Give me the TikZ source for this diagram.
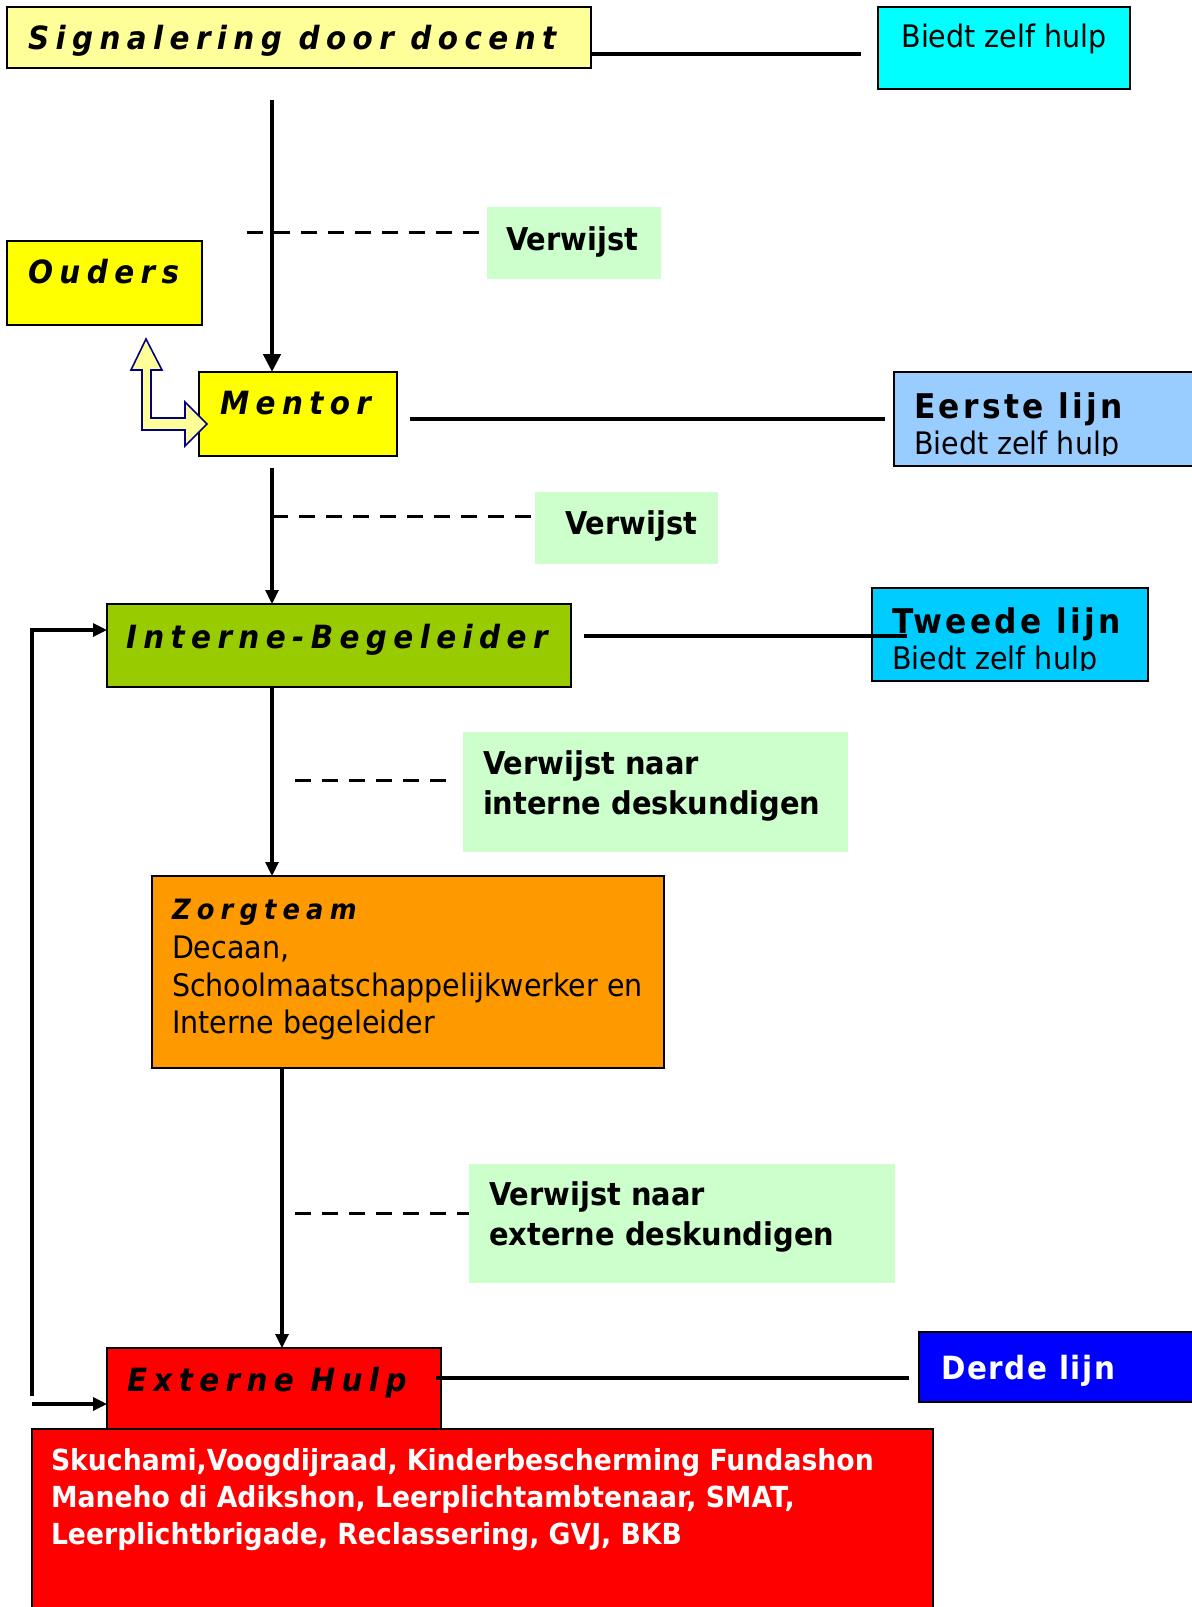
\documentclass[tikz,border=0pt]{standalone}
\usepackage{fontspec}
\setmainfont{DejaVu Sans}[FakeStretch=0.92]
\usetikzlibrary{arrows.meta}
\definecolor{lightyel}{HTML}{FFFF99}
\definecolor{yel}{HTML}{FFFF00}
\definecolor{cyanbox}{HTML}{00FFFF}
\definecolor{greenbox}{HTML}{CCFFCC}
\definecolor{bluelt}{HTML}{99CCFF}
\definecolor{ibgreen}{HTML}{99CC00}
\definecolor{skyb}{HTML}{00CCFF}
\definecolor{orangebox}{HTML}{FF9900}
\definecolor{redbox}{HTML}{FF0000}
\definecolor{bluebox}{HTML}{0000FF}
\definecolor{navyline}{HTML}{000080}
\newcommand\ttlfont{\fontsize{16}{19}\selectfont\bfseries\itshape\addfontfeatures{LetterSpace=20}}
\newcommand\zorgfont{\fontsize{14}{17}\selectfont\bfseries\itshape\addfontfeatures{LetterSpace=22}}
\newcommand\lijnfont{\fontsize{17}{20}\selectfont\bfseries\addfontfeatures{LetterSpace=10}}
\newcommand\derdefont{\fontsize{16}{19}\selectfont\bfseries\addfontfeatures{LetterSpace=5}}
\newcommand\bodyfont{\fontsize{15.5}{18}\selectfont}
\newcommand\boldbody{\fontsize{15.7}{18}\selectfont\bfseries}
\newcommand\listfont{\fontsize{14.5}{17}\selectfont\bfseries}
\tikzset{
  boxst/.style={draw=black, line width=0.9pt, inner sep=0pt, outer sep=0pt, anchor=north west},
  gbox/.style={fill=greenbox, inner sep=0pt, outer sep=0pt, anchor=north west},
  txt/.style={anchor=base west, inner sep=0pt, outer sep=0pt},
  conn/.style={line width=1.6pt},
  arr/.style={line width=1.6pt, -{Triangle[length=7pt,width=6.5pt]}},
  arrbig/.style={line width=2.4pt, -{Triangle[length=9pt,width=8.5pt]}},
  dashline/.style={line width=1.5pt, dash pattern=on 8pt off 5.5pt},
}
\begin{document}
\begin{tikzpicture}[x=0.5pt,y=-0.5pt]
\fill[white] (0,0) rectangle (1192,1607);
\useasboundingbox (0,0) rectangle (1192,1607);

% boxes
\node[boxst, fill=lightyel, minimum width=292pt, minimum height=30.5pt] (sig) at (7,7) {};
\node[boxst, fill=cyanbox, minimum width=126pt, minimum height=41pt] (zelf) at (878,7) {};
\node[gbox, minimum width=87pt, minimum height=36pt] (v1) at (487,207) {};
\node[boxst, fill=yel, minimum width=97.5pt, minimum height=42pt] (ouders) at (7,241) {};
\node[boxst, fill=yel, minimum width=99pt, minimum height=42pt] (mentor) at (199,372) {};
\node[boxst, fill=bluelt, minimum width=160pt, minimum height=47pt] (eerste) at (894,372) {};
\node[gbox, minimum width=91.5pt, minimum height=36pt] (v2) at (535,492) {};
\node[boxst, fill=ibgreen, minimum width=232pt, minimum height=41.5pt] (ib) at (107,604) {};
\node[boxst, fill=skyb, minimum width=138pt, minimum height=46.5pt] (tweede) at (872,588) {};
\node[gbox, minimum width=192.5pt, minimum height=60pt] (v3) at (463,732) {};
\node[boxst, fill=orangebox, minimum width=256pt, minimum height=96pt] (zorg) at (152,876) {};
\node[gbox, minimum width=213pt, minimum height=59.5pt] (v4) at (469,1164) {};
\node[boxst, fill=redbox, minimum width=167pt, minimum height=41pt] (ext) at (107,1348) {};
\node[boxst, fill=bluebox, minimum width=150pt, minimum height=35pt] (derde) at (919,1332) {};
\node[boxst, fill=redbox, minimum width=450.5pt, minimum height=100pt] (lijst) at (32,1429) {};

% texts
\node[txt] (tsig) at (28,49) {\ttlfont Signalering door docent};
\node[anchor=base, inner sep=0pt] (tzelf) at (1004,47) {\bodyfont Biedt zelf hulp};
\node[txt] (tv1) at (506,250) {\boldbody Verwijst};
\node[txt] (touders) at (28,283) {\ttlfont Ouders};
\node[txt] (tmentor) at (220,414) {\ttlfont Mentor};
\begin{scope}
\clip (894,372) rectangle (1192,455);
\node[txt] (teerste) at (914,418) {\lijnfont Eerste lijn};
\node[txt] (teerste2) at (914,454) {\bodyfont Biedt zelf hulp};
\end{scope}
\node[txt] (tv2) at (565,534) {\boldbody Verwijst};
\node[txt] (tib) at (126,648) {\ttlfont Interne-Begeleider};
\begin{scope}
\clip (872,588) rectangle (1148,670);
\node[txt] (ttweede) at (892,633) {\lijnfont Tweede lijn};
\node[txt] (ttweede2) at (892,669) {\bodyfont Biedt zelf hulp};
\end{scope}
\node[txt] (tv3a) at (483,774) {\boldbody Verwijst naar};
\node[txt] (tv3b) at (483,814) {\boldbody interne deskundigen};
\node[txt] (tzorg1) at (172,919) {\zorgfont Zorgteam};
\node[txt] (tzorg2) at (172,958) {\bodyfont Decaan,};
\node[txt] (tzorg3) at (172,996) {\bodyfont Schoolmaatschappelijkwerker en};
\node[txt] (tzorg4) at (172,1033) {\bodyfont Interne begeleider};
\node[txt] (tv4a) at (489,1205) {\boldbody Verwijst naar};
\node[txt] (tv4b) at (489,1245) {\boldbody externe deskundigen};
\node[txt] (text) at (127,1391) {\ttlfont Externe Hulp};
\node[txt, text=white] (tderde) at (941,1379) {\derdefont Derde lijn};
\node[txt, text=white] (tl1) at (51,1470) {\listfont Skuchami,Voogdijraad, Kinderbescherming Fundashon};
\node[txt, text=white] (tl2) at (51,1507) {\listfont Maneho di Adikshon, Leerplichtambtenaar, SMAT,};
\node[txt, text=white] (tl3) at (51,1544) {\listfont Leerplichtbrigade, Reclassering, GVJ, BKB};

% coordinates for free ends
\coordinate (c1a) at (591,54);
\coordinate (c1b) at (861,54);
\coordinate (a1s) at (272,100);
\coordinate (d1s) at (247,232);
\coordinate (c2a) at (410,419);
\coordinate (c2b) at (885,419);
\coordinate (a2s) at (272,468);
\coordinate (d2s) at (272,516);
\coordinate (c3a) at (584,636);
\coordinate (c3b) at (907,636);
\coordinate (d3s) at (295,780);
\coordinate (d3e) at (451,780);
\coordinate (a4s) at (282,1068);
\coordinate (d4s) at (295,1213);
\coordinate (c4a) at (436,1378);
\coordinate (c4b) at (909,1378);
\coordinate (fbtop) at (32,630);
\coordinate (fbbot) at (32,1396);
\coordinate (fb2) at (32,1404);

% connectors
\draw[conn] (c1a) -- (c1b);
\draw[arrbig] (a1s) -- (a1s |- mentor.north);
\draw[dashline] (d1s) -- (d1s -| v1.west);
\draw[conn] (c2a) -- (c2b);
\draw[arr] (a2s) -- (a2s |- ib.north);
\draw[dashline] (d2s) -- (d2s -| v2.west);
\draw[conn] (c3a) -- (c3b);
\draw[arr] (ib.south -| a2s) -- (zorg.north -| a2s);
\draw[dashline] (d3s) -- (d3e);
\draw[arr] (a4s) -- (a4s |- ext.north);
\draw[dashline] (d4s) -- (d4s -| v4.west);
\draw[conn] (c4a) -- (c4b);
\draw[arr] (fbbot) -- (fbtop) -- (fbtop -| ib.west);
\draw[arr] (fb2) -- (fb2 -| ext.west);

% Ouders <-> Mentor block arrow
\draw[navyline, fill=lightyel, line width=0.8pt, line join=miter]
  (146,339) -- (162,370) -- (151,370) -- (151,418) -- (185,418) -- (185,402)
  -- (207,424) -- (185,446) -- (185,430) -- (142,430) -- (142,370) -- (131,370) -- cycle;
\end{tikzpicture}
\end{document}
